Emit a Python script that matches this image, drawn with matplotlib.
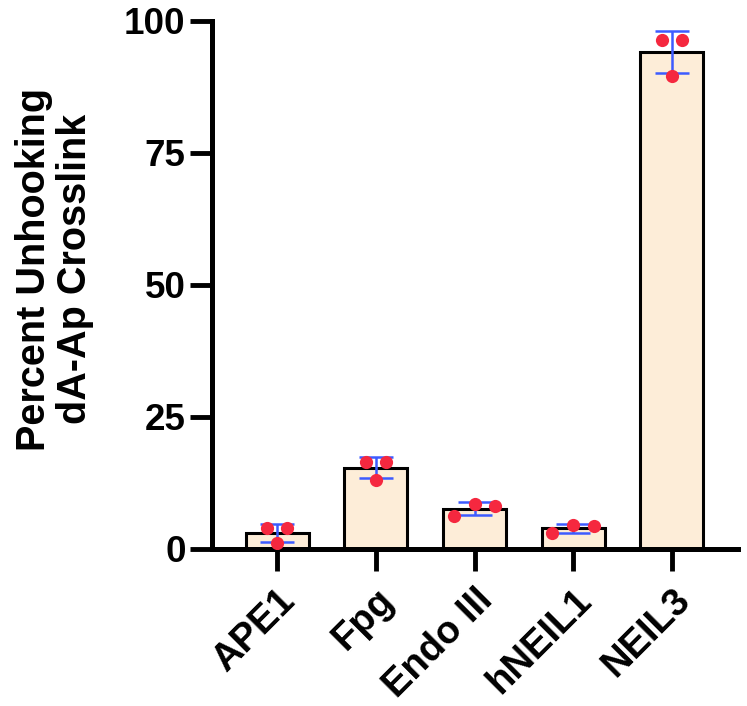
import numpy as np
import matplotlib.pyplot as plt

plt.rcParams['font.family'] = ['Liberation Sans', 'DejaVu Sans']
plt.rcParams['font.weight'] = 'bold'

# Données (3 réplicats par enzyme)
enzymes = ["APE1", "Fpg", "Endo III", "hNEIL1", "NEIL3"]
replicats = [
    [4.0, 1.1, 4.0],
    [16.5, 13.1, 16.5],
    [6.2, 8.5, 8.1],
    [3.0, 4.5, 4.3],
    [96.4, 89.6, 96.4],
]
# décalage horizontal des points (dispersion type GraphPad)
ecarts = [0.10, 0.10, 0.21, 0.21, 0.10]

moyennes = [np.mean(r) for r in replicats]
sd = [np.std(r, ddof=1) for r in replicats]
x = np.arange(len(enzymes))

fig = plt.figure(figsize=(7.47, 7.06), dpi=100)
ax = fig.add_axes([0.2838, 0.2224, 0.988 - 0.2838, 0.9703 - 0.2224])

ax.bar(x, moyennes, width=0.64, color="#FDEDD8", edgecolor="black", linewidth=2.2, zorder=2)
ax.errorbar(x, moyennes, yerr=sd, fmt="none", ecolor="#3D5BFF", elinewidth=1.8,
            capsize=12, capthick=1.8, zorder=3)
for i, vals in enumerate(replicats):
    xs = x[i] + np.array([-1, 0, 1]) * ecarts[i]
    ax.plot(xs, vals, "o", color="#F5283F", markersize=9.5, markeredgewidth=0, zorder=4)

ax.set_xlim(-0.66, 4.67)
ax.set_ylim(0, 100)
ax.set_yticks([0, 25, 50, 75, 100])
ax.set_xticks(x)
ax.set_xticklabels(enzymes, rotation=45, ha="right", rotation_mode="anchor")
ax.tick_params(axis="both", labelsize=26.5, width=3.5, length=16, pad=3)
ax.tick_params(axis="x", labelsize=27.5, pad=8)

for s in ["top", "right"]:
    ax.spines[s].set_visible(False)
for s in ["left", "bottom"]:
    ax.spines[s].set_linewidth(3.6)

ax.set_ylabel("Percent Unhooking\ndA-Ap Crosslink", fontsize=28.5, fontweight="bold",
              linespacing=1.1)
ax.yaxis.set_label_coords(-0.225, 0.53)

plt.savefig("out.png", dpi=100)
